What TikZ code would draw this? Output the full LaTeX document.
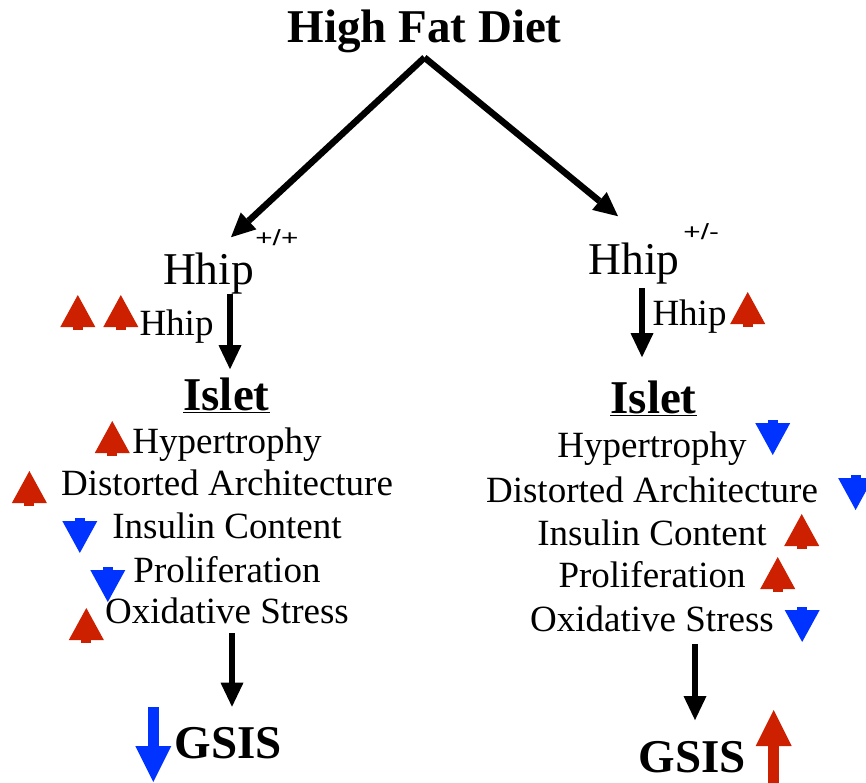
\documentclass[tikz,border=0pt]{standalone}
\usepackage{fontspec}
\setmainfont{Liberation Serif}
\newfontfamily\supfont{Liberation Sans}
\usetikzlibrary{arrows.meta, positioning}
\definecolor{upred}{RGB}{204,32,0}
\definecolor{downblue}{RGB}{0,51,255}

\begin{document}
\begin{tikzpicture}[
  x=1pt, y=-1pt,
  every node/.style={inner sep=0pt, anchor=base},
  heading/.style={font=\fontsize{47}{50}\selectfont\bfseries},
  gene/.style={font=\fontsize{45.5}{48}\selectfont},
  geno/.style={font=\supfont\fontsize{22}{22}\selectfont, anchor=base west},
  entry/.style={font=\fontsize{37}{40}\selectfont},
  flow/.style={-{Triangle[length=24pt, width=23pt, line width=0pt]}, line width=6.5pt},
  upmark/.pic={\fill (-5,0) rectangle (5,-4); \fill (-17.5,-3) -- (17.5,-3) -- (0,-35) -- cycle;},
  downmark/.pic={\fill (-5,0) rectangle (5,4); \fill (-17.5,3) -- (17.5,3) -- (0,35) -- cycle;},
  bigup/.style={-{Triangle[length=36pt, width=36pt, line width=0pt]}, line width=11pt, draw=upred},
  bigdown/.style={-{Triangle[length=36pt, width=36pt, line width=0pt]}, line width=11pt, draw=downblue}
]

\useasboundingbox (0,0) rectangle (866,783);

% Title
\node[heading] (diet) at (424.5,43) {High Fat Diet};

% Genotypes
\node[gene] (hhipL) at (208.5,284) {Hhip};
\node[geno] (wtL) at ([xshift=1pt,yshift=38pt]hhipL.base east) {\scalebox{1.35}[1]{+/+}};
\node[gene] (hhipR) at (634,275) {Hhip};
\node[geno] (hetR) at ([xshift=3.5pt,yshift=35pt]hhipR.base east) {\scalebox{1.35}[1]{+/-}};

% Hhip expression
\node[entry] (exprL) at (176.5,335) {Hhip};
\node[entry] (exprR) at (689.5,325) {Hhip};

% Islets
\node[heading] (isletL) at (226.5,410) {\underline{Islet}};
\node[heading] (isletR) at (653.5,413) {\underline{Islet}};

% Islet changes, wild type
\node[entry] (hypL) at (227,453) {Hypertrophy};
\node[entry] (archL) at (227,495) {Distorted Architecture};
\node[entry] (insL) at (227,538) {Insulin Content};
\node[entry] (profL) at (227,582) {Proliferation};
\node[entry] (oxL) at (227,623) {Oxidative Stress};

% Islet changes, heterozygous
\node[entry] (hypR) at (652,457) {Hypertrophy};
\node[entry] (archR) at (652,502) {Distorted Architecture};
\node[entry] (insR) at (652,545) {Insulin Content};
\node[entry] (profR) at (652,587) {Proliferation};
\node[entry] (oxR) at (652,631) {Oxidative Stress};

% GSIS
\node[heading] (gsisL) at (228.5,758) {GSIS};
\node[heading] (gsisR) at (692.5,772) {GSIS};

% Arrows
\draw[flow] ([yshift=-4pt]diet.south) -- ([xshift=22.5pt,yshift=15pt]hhipL.north);
\draw[flow] ([yshift=-4pt]diet.south) -- ([xshift=-16pt,yshift=27pt]hhipR.north);
\draw[flow] ([xshift=3.5pt]hhipL.south -| isletL.north) -- ([xshift=3.5pt,yshift=8pt]isletL.north);
\draw[flow, shorten <=3pt] ([xshift=-11.5pt]hhipR.south -| isletR.north) -- ([xshift=-11.5pt,yshift=23pt]isletR.north);
\draw[flow, shorten <=9.5pt] ([xshift=3.5pt]oxL.south -| gsisL.north) -- ([xshift=3.5pt,yshift=20pt]gsisL.north);
\draw[flow, shorten <=12.5pt] ([xshift=2.5pt]oxR.south -| gsisR.north) -- ([xshift=2.5pt,yshift=20.6pt]gsisR.north);

% Marks, wild type
\pic[upred] at ([xshift=-61.5pt,yshift=5pt]exprL.base west) {upmark};
\pic[upred] at ([xshift=-18.5pt,yshift=5pt]exprL.base west) {upmark};
\pic[upred] at ([xshift=-20pt,yshift=-3pt]hypL.base west) {upmark};
\pic[upred] at ([xshift=-31.5pt,yshift=-11pt]archL.base west) {upmark};
\pic[downblue] at ([xshift=-32.4pt,yshift=20pt]insL.base west) {downmark};
\pic[downblue] at ([xshift=-25.5pt,yshift=15pt]profL.base west) {downmark};
\pic[upred] at ([xshift=-18.7pt,yshift=-20pt]oxL.base west) {upmark};
\draw[bigdown] ([xshift=-21.4pt,yshift=51pt]gsisL.base west) -- ++(0,75);

% Marks, heterozygous
\pic[upred] at ([xshift=21pt,yshift=-2pt]exprR.base east) {upmark};
\pic[downblue] at ([xshift=26pt,yshift=37pt]hypR.base east) {downmark};
\pic[downblue] at ([xshift=37.5pt,yshift=27pt]archR.base east) {downmark};
\pic[upred] at ([xshift=34.9pt,yshift=-4pt]insR.base east) {upmark};
\pic[upred] at ([xshift=32pt,yshift=-5pt]profR.base east) {upmark};
\pic[downblue] at ([xshift=28.2pt,yshift=24pt]oxR.base east) {downmark};
\draw[bigup] ([xshift=27.4pt,yshift=-14pt]gsisR.base east) -- ++(0,-76);

\end{tikzpicture}
\end{document}
